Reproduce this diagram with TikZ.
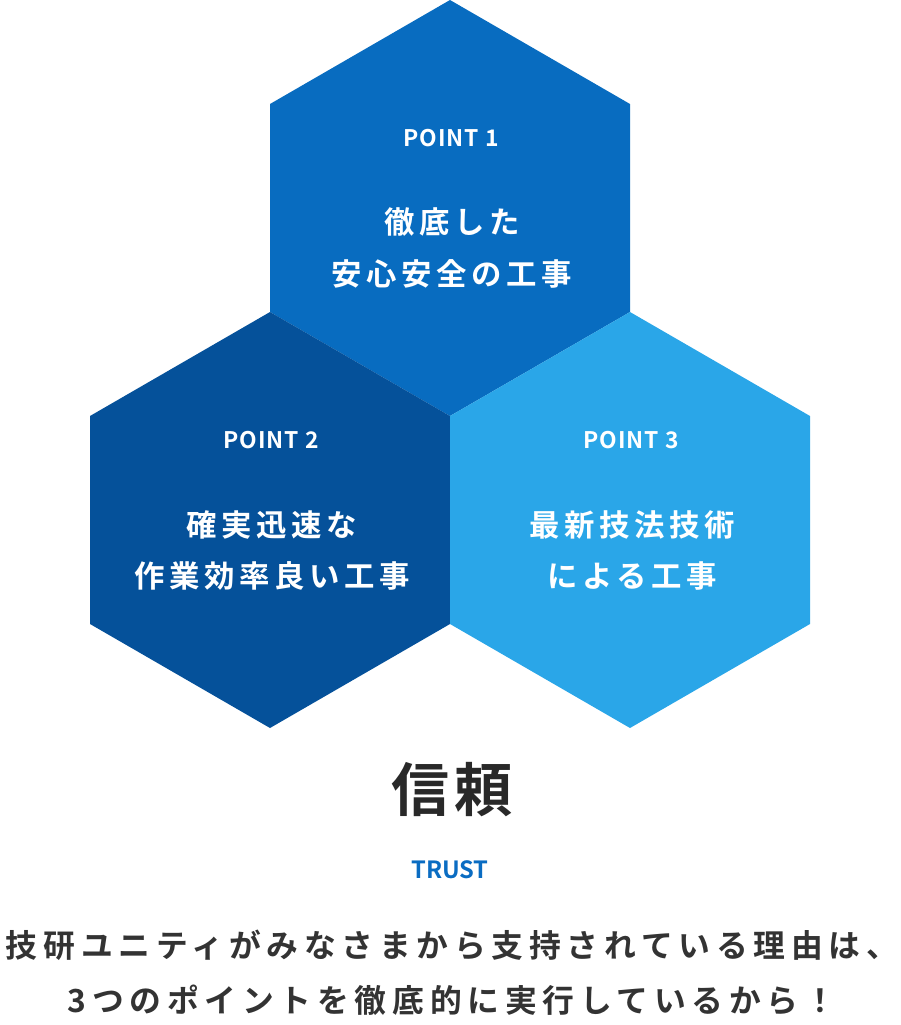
\documentclass[tikz,border=0pt]{standalone}
\usepackage{fontspec}
\usepackage{xcolor}
\newfontfamily\jpfont{Noto Sans CJK JP Bold}
\definecolor{hexTop}{HTML}{086CC0}
\definecolor{hexLeft}{HTML}{05519A}
\definecolor{hexRight}{HTML}{2AA6E8}
\definecolor{trustBlue}{HTML}{0A6CC2}
\definecolor{textDark}{HTML}{333333}
\usetikzlibrary{positioning}

\begin{document}
\begin{tikzpicture}[x=0.02cm, y=-0.02cm,
  pointlbl/.style={text=white, inner sep=0pt, font={\jpfont\addfontfeatures{LetterSpace=4}\fontsize{13}{15}\selectfont}},
  hexlbl/.style={text=white, inner sep=0pt, align=center, font={\jpfont\addfontfeatures{LetterSpace=15}\fontsize{17.3}{29.5}\selectfont}},
  msglbl/.style={text=textDark, inner sep=0pt, align=center, font={\jpfont\addfontfeatures{LetterSpace=18}\fontsize{18.1}{31.2}\selectfont}}]
\useasboundingbox (0,0) rectangle (900,1025);
% three hexagons
\foreach \cx/\cy/\col in {450/208/hexTop, 270/520/hexLeft, 630/520/hexRight}
  \fill[\col] (\cx,\cy-208) -- (\cx+180,\cy-104) -- (\cx+180,\cy+104) -- (\cx,\cy+208)
    -- (\cx-180,\cy+104) -- (\cx-180,\cy-104) -- cycle;
% labels
\node[pointlbl] (p1) at (451,138) {POINT 1};
\node[hexlbl] (t1) at (452,248) {徹底した\\安心安全の工事};
\node[pointlbl] (p2) at (271,440) {POINT 2};
\node[hexlbl] (t2) at (272,550.5) {確実迅速な\\作業効率良い工事};
\node[pointlbl] (p3) at (631,440) {POINT 3};
\node[hexlbl] (t3) at (632,550.5) {最新技法技術\\による工事};
% title
\node[text=textDark!80!black, inner sep=0pt, font={\jpfont\addfontfeatures{LetterSpace=8}\fontsize{33}{40}\selectfont}] (trust) at (452,790) {信頼};
\node[text=trustBlue, inner sep=0pt, font={\jpfont\fontsize{13.5}{15}\selectfont}] (trusten) at (450,870) {TRUST};
\node[msglbl] (msg) at (452,972.5) {技研ユニティがみなさまから支持されている理由は、\\3つのポイントを徹底的に実行しているから！};
\end{tikzpicture}
\end{document}
